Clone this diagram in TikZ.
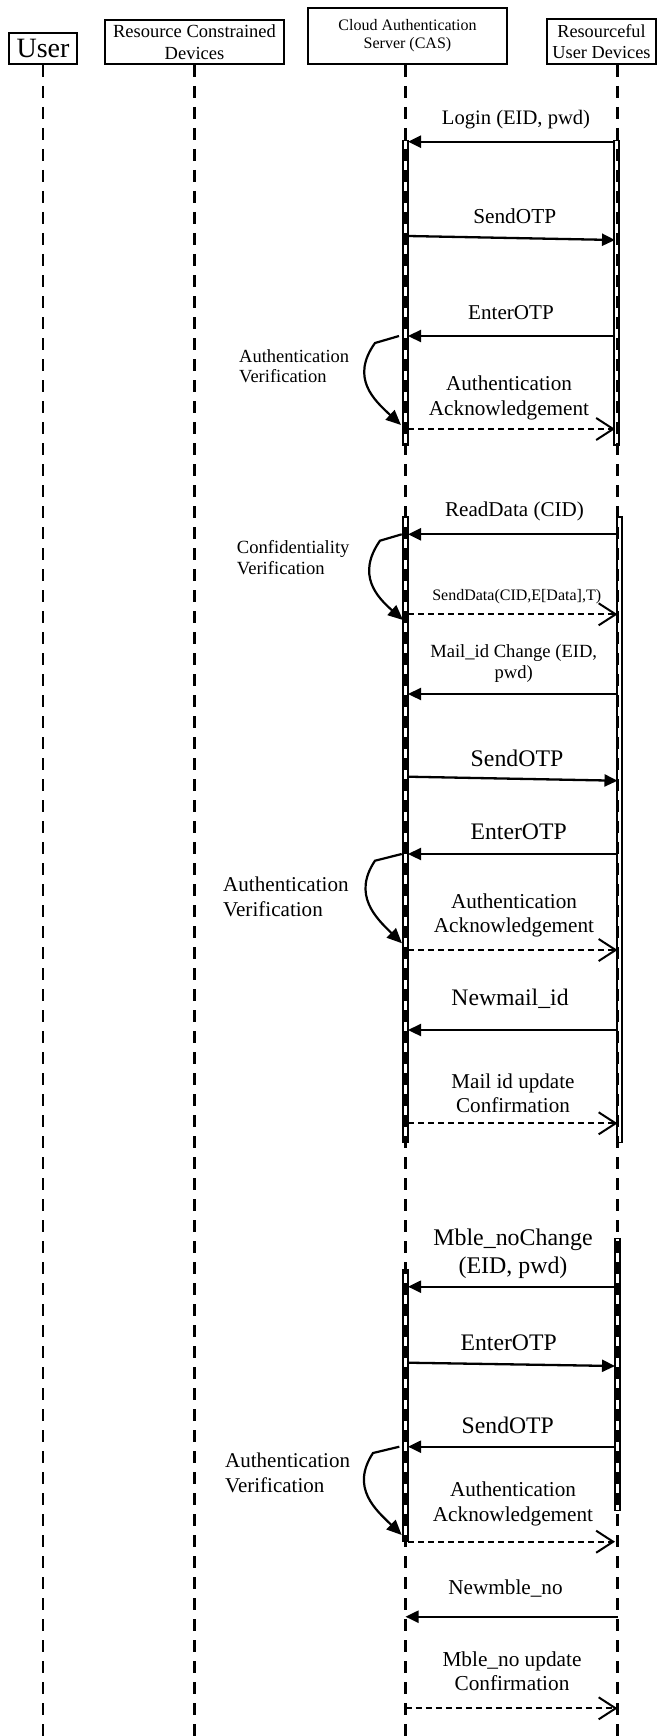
\documentclass[tikz,border=0pt]{standalone}
\usepackage{fontspec}
\setmainfont{Liberation Serif}
\usepackage{tikz}
\usetikzlibrary{arrows.meta, positioning}

\begin{document}
\begin{tikzpicture}[
    x=1pt, y=-1pt,
    head/.style={
        rectangle,
        draw=black,
        line width=2.4pt,
        align=center,
        inner sep=0pt
    },
    life/.style={
        line width=2.2pt,
        dash pattern=on 12pt off 9pt
    },
    bar/.style={
        draw=black,
        line width=1.5pt
    },
    call/.style={
        line width=2.3pt,
        -{Triangle[length=13pt,width=12pt]}
    },
    reply/.style={
        line width=2pt,
        dash pattern=on 6pt off 4pt,
        -{Straight Barb[length=17pt,width=22pt,line width=2pt]}
    },
    verify/.style={
        line width=2.2pt,
        -{Triangle[length=15pt,width=13pt]}
    },
    msg/.style={
        align=center,
        inner sep=0pt
    },
    note/.style={
        align=left,
        anchor=west,
        inner sep=0pt
    }
]
\useasboundingbox (0,0) rectangle (658,1736);
% HEADERS
\node (user) [head, minimum width=67.6, minimum height=30.6, font=\fontsize{28}{30}\selectfont] at (43,48.5) {User};
\node (rcd) [head, minimum width=178.6, minimum height=43.6, font=\fontsize{18.5}{22}\selectfont] at (194.5,42) {Resource Constrained\\Devices};
\node (cas) [head, minimum width=198.6, minimum height=55.6, font=\fontsize{16}{18}\selectfont] at (407.5,36) {Cloud Authentication\\Server (CAS)};
\node (rud) [head, minimum width=108.6, minimum height=44.6, font=\fontsize{18.3}{21}\selectfont] at (601.5,41.5) {Resourceful\\User Devices};
% LIFELINES
\coordinate (casL) at (405.5,65);
\coordinate (rudL) at (617.5,65);
\coordinate (casIn) at (408,65);
\coordinate (rudIn) at (615,65);
\draw [life] (user.south) -- (user.south |- 0,1736);
\draw [life] (rcd.south) -- (rcd.south |- 0,1736);
\draw [life] (casL) -- (casL |- 0,1736);
\draw [life] (rudL) -- (rudL |- 0,1736);
% LOGIN SESSION
\draw [bar] (403,140.7) rectangle (408,445);
\draw [bar] (614,140.7) rectangle (619,445);
\draw [call] (rudIn |- 0,141.7) -- (casIn |- 0,141.7);
\node (login) [msg, font=\fontsize{20.6}{24}\selectfont] at (516,119.5) {Login (EID, pwd)};
\draw [call] (casIn |- 0,236) -- (rudIn |- 0,240);
\node (otp1) [msg, font=\fontsize{21.3}{24}\selectfont] at (514.7,216.7) {SendOTP};
\draw [call] (rudIn |- 0,336) -- (casIn |- 0,336);
\node (enter1) [msg, font=\fontsize{21.1}{24}\selectfont] at (511,313) {EnterOTP};
\draw [verify] (399,336) -- (375,343) .. controls (350,378) and (374,400) .. (401,425);
\node (ver1) [note, font=\fontsize{18.5}{20.5}\selectfont] at (239,366) {Authentication\\Verification};
\draw [reply] (casIn |- 0,429) -- (rudIn |- 0,429);
\node (ack1) [msg, font=\fontsize{21.2}{24.4}\selectfont] at (509,398) {Authentication\\Acknowledgement};
% DATA AND MAIL SESSION
\draw [bar] (403,516.7) rectangle (408,1142.7);
\draw [bar] (617,517) rectangle (622,1142.7);
\draw [call] (rudL |- 0,534.3) -- (casIn |- 0,534.3);
\node (read) [msg, font=\fontsize{21.1}{24}\selectfont] at (514.5,511.7) {ReadData (CID)};
\draw [verify] (401.7,534.3) -- (380,540.7) .. controls (356,575) and (377,597) .. (403,620);
\node (ver2) [note, font=\fontsize{18.6}{21}\selectfont] at (236.7,557.8) {Confidentiality\\Verification};
\draw [reply] (casIn |- 0,614.3) -- (rudL |- 0,614.3);
\node (send) [msg, font=\fontsize{16}{18}\selectfont] at (516.7,596.7) {SendData(CID,E[Data],T)};
\draw [call] (rudL |- 0,694) -- (casIn |- 0,694);
\node (mail) [msg, font=\fontsize{18.6}{21.3}\selectfont] at (513.7,663.3) {Mail\_id Change (EID,\\pwd)};
\draw [call] (casIn |- 0,776.7) -- (rudL |- 0,780.7);
\node (otp2) [msg, font=\fontsize{23.8}{28}\selectfont] at (517,758) {SendOTP};
\draw [call] (rudL |- 0,854) -- (casIn |- 0,854);
\node (enter2) [msg, font=\fontsize{23.7}{28}\selectfont] at (518.7,831.7) {EnterOTP};
\draw [verify] (401.7,854) -- (375,860.7) .. controls (352,895) and (376,918) .. (402,943.3);
\node (ver3) [note, font=\fontsize{21.1}{25}\selectfont] at (223,896.5) {Authentication\\Verification};
\draw [reply] (casIn |- 0,950) -- (rudL |- 0,950);
\node (ack2) [msg, font=\fontsize{21.2}{24.4}\selectfont] at (514,915.5) {Authentication\\Acknowledgement};
\draw [call] (rudL |- 0,1030) -- (casIn |- 0,1030);
\node (newmail) [msg, font=\fontsize{23.7}{28}\selectfont] at (510,998.3) {Newmail\_id};
\draw [reply] (casIn |- 0,1123.3) -- (rudL |- 0,1123.3);
\node (mailok) [msg, font=\fontsize{21.1}{23.3}\selectfont] at (513,1093.3) {Mail id update\\Confirmation};
% MOBILE SESSION
\draw [bar] (403,1269.3) rectangle (408,1541.7);
\draw [bar] (615,1238.3) rectangle (620,1510.7);
\draw [call] (rudIn |- 0,1286.7) -- (casIn |- 0,1286.7);
\node (mble) [msg, font=\fontsize{23.9}{28}\selectfont] at (513,1253.3) {Mble\_noChange\\(EID, pwd)};
\draw [call] (casIn |- 0,1362.7) -- (rudIn |- 0,1366);
\node (enter3) [msg, font=\fontsize{23.7}{28}\selectfont] at (508.7,1342.7) {EnterOTP};
\draw [call] (rudIn |- 0,1446.7) -- (casIn |- 0,1446.7);
\node (otp3) [msg, font=\fontsize{23.7}{28}\selectfont] at (507.8,1425.7) {SendOTP};
\draw [verify] (399.3,1446.7) -- (373,1453) .. controls (350,1488) and (376,1510) .. (401.7,1535);
\node (ver4) [note, font=\fontsize{21}{25}\selectfont] at (225,1472.5) {Authentication\\Verification};
\draw [reply] (casIn |- 0,1541.7) -- (rudIn |- 0,1541.7);
\node (ack3) [msg, font=\fontsize{21.2}{24.3}\selectfont] at (513,1503.8) {Authentication\\Acknowledgement};
\draw [call] (rudL |- 0,1616.7) -- (casL |- 0,1616.7);
\node (newmble) [msg, font=\fontsize{21.2}{24}\selectfont] at (505.5,1588.3) {Newmble\_no};
\draw [reply] (casL |- 0,1708.3) -- (rudL |- 0,1708.3);
\node (mbleok) [msg, font=\fontsize{21.3}{24.3}\selectfont] at (512,1671) {Mble\_no update\\Confirmation};
\end{tikzpicture}
\end{document}
